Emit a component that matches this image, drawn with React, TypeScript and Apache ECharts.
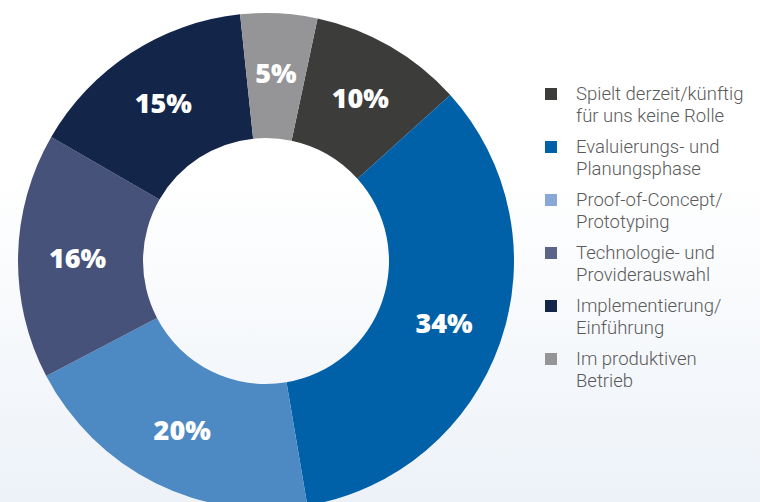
import React, { useEffect, useRef } from "react";
import * as echarts from "echarts";

const categories = [
  "Spielt derzeit/künftig\nfür uns keine Rolle",
  "Evaluierungs- und\nPlanungsphase",
  "Proof-of-Concept/\nPrototyping",
  "Technologie- und\nProviderauswahl",
  "Implementierung/\nEinführung",
  "Im produktiven\nBetrieb",
];
const values = [10, 34, 20, 16, 15, 5];
const sliceColors = ["#3c3c3b", "#0061a8", "#4d89c3", "#46527a", "#13264a", "#959598"];
const legendColors = ["#3c3c3b", "#0061a8", "#88a8d5", "#5a6488", "#13264a", "#959598"];

export default function App() {
  const ref = useRef<HTMLDivElement>(null);
  useEffect(() => {
    if (!ref.current) return;
    const chart = echarts.init(ref.current, null, { renderer: "svg" });
    const legendX = 545;
    const legendY = 88;
    const step = 53;
    const legendGraphics: any[] = [];
    categories.forEach((c, i) => {
      legendGraphics.push({
        type: "rect",
        left: legendX,
        top: legendY + i * step,
        shape: { width: 12, height: 12 },
        style: { fill: legendColors[i] },
      });
      legendGraphics.push({
        type: "text",
        left: 576,
        top: legendY - 5 + i * step,
        style: {
          text: c,
          fill: "#5a5a5a",
          font: "300 18.5px Roboto, sans-serif",
          lineHeight: 22,
        },
      });
    });
    chart.setOption({
      animation: false,
      backgroundColor: {
        type: "linear",
        x: 0,
        y: 0,
        x2: 0,
        y2: 1,
        colorStops: [
          { offset: 0, color: "#ffffff" },
          { offset: 0.35, color: "#ffffff" },
          { offset: 1, color: "#edf2f8" },
        ],
      },
      graphic: legendGraphics,
      series: [
        {
          type: "pie",
          center: [266, 261],
          radius: [123, 248],
          startAngle: 78,
          clockwise: true,
          silent: true,
          data: values.map((v, i) => ({
            value: v,
            name: categories[i],
            itemStyle: { color: sliceColors[i] },
          })),
          label: {
            show: true,
            position: "inside",
            formatter: (p: any) => p.value + "%",
            color: "#ffffff",
            fontSize: 27,
            fontWeight: 800,
            fontFamily: "'Open Sans', sans-serif",
          },
          labelLine: { show: false },
        },
      ],
    });
    return () => chart.dispose();
  }, []);
  return (
    <div
      ref={ref}
      style={{ position: "fixed", left: 0, top: 0, width: 760, height: 502 }}
    />
  );
}
